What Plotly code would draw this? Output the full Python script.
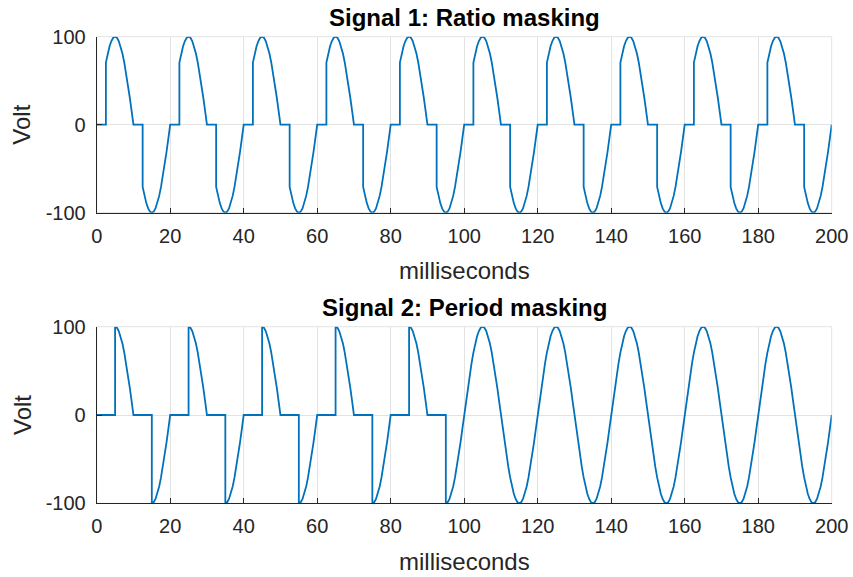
import numpy as np
import plotly.graph_objects as go

# ---- data ----
# One positive half-cycle of the 50 Hz, 100 V carrier, sampled every 0.5 ms (0..10 ms)
half_cycle_volts = [0, 15.6, 30.9, 45.4, 58.8, 70.7, 80.9, 89.1, 95.1, 98.8, 100,
                    98.8, 95.1, 89.1, 80.9, 70.7, 58.8, 45.4, 30.9, 15.6, 0]
sample_step_ms = 0.5
period_ms = 20
duration_ms = 200

# masking windows (start, end) in ms where the signal is forced to zero
ratio_mask_starts = [0, 10, 20, 30, 40, 50, 60, 70, 80, 90, 100, 110, 120, 130, 140,
                     150, 160, 170, 180, 190]
ratio_mask_len = 2.5
period_mask_starts = [0, 10, 20, 30, 40, 50, 60, 70, 80, 90]
period_mask_len = 5

x_ticks = [0, 20, 40, 60, 80, 100, 120, 140, 160, 180, 200]
y_ticks = [-100, 0, 100]
y_tick_text = ["-100", "0", "100"]
titles = ["Signal 1: Ratio masking", "Signal 2: Period masking"]
x_label = "milliseconds"
y_label = "Volt"

# ---- build the carrier from the read samples ----
cycle = half_cycle_volts[:-1] + [-v for v in half_cycle_volts[:-1]]
n_per_cycle = len(cycle)
n_total = int(duration_ms / sample_step_ms) + 1
t = [i * sample_step_ms for i in range(n_total)]
carrier = [cycle[i % n_per_cycle] for i in range(n_total)]


def masked(starts, length):
    windows = [(s, s + length) for s in starts]
    xs, ys = [], []
    for ti, vi in zip(t, carrier):
        inside = any(a < ti < b for a, b in windows)
        at_start = any(abs(ti - a) < 1e-9 for a, b in windows)
        at_end = any(abs(ti - b) < 1e-9 for a, b in windows)
        if inside:
            xs.append(ti); ys.append(0)
        elif at_start and at_end:
            xs.append(ti); ys.append(0)
        elif at_start:
            xs += [ti, ti]; ys += [vi, 0]
        elif at_end:
            xs += [ti, ti]; ys += [0, vi]
        else:
            xs.append(ti); ys.append(vi)
    return xs, ys


x1, y1 = masked(ratio_mask_starts, ratio_mask_len)
x2, y2 = masked(period_mask_starts, period_mask_len)

W, H = 853, 577
left_px, right_px = 96.7, 831.7
plots = [(36.7, 212.7), (326.7, 503.3)]

fig = go.Figure()
line_color = "#0072BD"
fig.add_trace(go.Scatter(x=x1, y=y1, mode="lines", line=dict(color=line_color, width=1.8),
                         xaxis="x", yaxis="y", showlegend=False, hoverinfo="skip"))
fig.add_trace(go.Scatter(x=x2, y=y2, mode="lines", line=dict(color=line_color, width=1.8),
                         xaxis="x2", yaxis="y2", showlegend=False, hoverinfo="skip"))

font_family = "Liberation Sans, Arial, sans-serif"
txt = "#262626"
axis_common = dict(showgrid=True, gridcolor="#e3e3e3", gridwidth=1, zeroline=False,
                   showline=True, linecolor="#262626", linewidth=1, ticks="inside",
                   ticklen=5, tickcolor="#262626", automargin=False,
                   tickfont=dict(family=font_family, size=20, color=txt))

layout = dict(width=W, height=H, margin=dict(l=0, r=0, t=0, b=0, autoexpand=False),
              paper_bgcolor="white", plot_bgcolor="white", annotations=[], shapes=[])
xd = [left_px / W, right_px / W]
for i, (top, bot) in enumerate(plots):
    sx = "" if i == 0 else "2"
    yd = [1 - bot / H, 1 - top / H]
    layout["xaxis" + sx] = dict(domain=xd, range=[0, 200], tickvals=x_ticks,
                                anchor="y" + sx, ticklabelstandoff=5, **axis_common)
    layout["yaxis" + sx] = dict(domain=yd, range=[-100, 100], tickvals=y_ticks,
                                ticktext=y_tick_text,
                                anchor="x" + sx, ticklabelstandoff=6, **axis_common)
    # light box on top/right like MATLAB
    layout["shapes"].append(dict(type="rect", xref="paper", yref="paper",
                                 x0=xd[0], x1=xd[1], y0=yd[0], y1=yd[1],
                                 line=dict(color="#e3e3e3", width=1), layer="below"))
    cx = (left_px + right_px) / 2
    layout["annotations"].append(dict(text="<b>%s</b>" % titles[i], x=cx / W, y=1 - (top - 19) / H,
                                      xref="paper", yref="paper", showarrow=False,
                                      xanchor="center", yanchor="middle",
                                      font=dict(family=font_family, size=24, color="black")))
    layout["annotations"].append(dict(text=x_label, x=cx / W, y=1 - (bot + 58) / H,
                                      xref="paper", yref="paper", showarrow=False,
                                      xanchor="center", yanchor="middle",
                                      font=dict(family=font_family, size=24, color=txt)))
    layout["annotations"].append(dict(text=y_label, x=22 / W, y=1 - ((top + bot) / 2) / H,
                                      xref="paper", yref="paper", showarrow=False, textangle=-90,
                                      xanchor="center", yanchor="middle",
                                      font=dict(family=font_family, size=24, color=txt)))

fig.update_layout(**layout)
fig.write_html("out.html")
